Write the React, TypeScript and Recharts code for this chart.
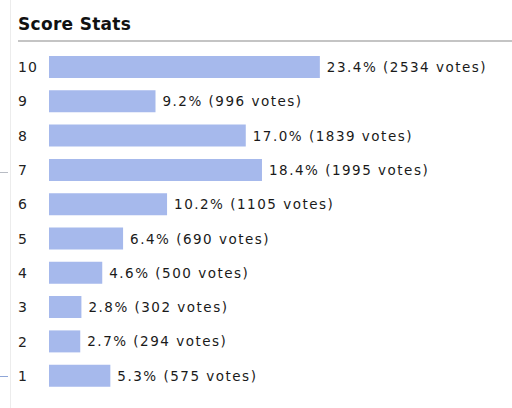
import { BarChart, Bar, XAxis, YAxis, LabelList } from 'recharts';

const scores = ['10', '9', '8', '7', '6', '5', '4', '3', '2', '1'];
const percents = [23.4, 9.2, 17.0, 18.4, 10.2, 6.4, 4.6, 2.8, 2.7, 5.3];
const votes = [2534, 996, 1839, 1995, 1105, 690, 500, 302, 294, 575];

const data = scores.map((score, i) => ({
  score,
  percent: percents[i],
  votes: votes[i],
}));

const FONT = '"DejaVu Sans", Verdana, sans-serif';

const ScoreTick = ({ y, payload }: any) => (
  <text
    x={18}
    y={y}
    dy={5}
    fontFamily={FONT}
    fontSize={14}
    letterSpacing={1}
    fill="#222"
    textAnchor="start"
  >
    {payload.value}
  </text>
);

const VoteLabel = ({ x, y, width, height, index }: any) => (
  <text
    x={x + width + 7}
    y={y + height / 2}
    dy={5}
    fontFamily={FONT}
    fontSize={13.5}
    letterSpacing={1.5}
    fill="#1a1a1a"
  >
    {`${percents[index].toFixed(1)}% (${votes[index]} votes)`}
  </text>
);

export default function App() {
  return (
    <div style={{ position: 'absolute', left: 0, top: 0, width: 512, height: 408, background: '#fff' }}>
      <div style={{ position: 'absolute', left: 10, top: 0, width: 1, height: 408, background: '#ececec' }} />
      <div style={{ position: 'absolute', left: 0, top: 172, width: 8, height: 1, background: '#b8bcc4' }} />
      <div style={{ position: 'absolute', left: 0, top: 376, width: 8, height: 1, background: '#8fa6d8' }} />
      <div
        style={{
          position: 'absolute',
          left: 18,
          top: 14,
          fontFamily: FONT,
          fontWeight: 'bold',
          fontSize: 17,
          letterSpacing: 0.3,
          color: '#111',
        }}
      >
        Score Stats
      </div>
      <div style={{ position: 'absolute', left: 18, top: 40, width: 494, height: 2, background: '#c4c4c4' }} />
      <div style={{ position: 'absolute', left: 0, top: 0 }}>
        <BarChart
          width={512}
          height={408}
          data={data}
          layout="vertical"
          margin={{ top: 50, right: 0, left: 0, bottom: 15 }}
        >
          <XAxis type="number" domain={[0, 40]} hide />
          <YAxis
            type="category"
            dataKey="score"
            width={49}
            axisLine={false}
            tickLine={false}
            tick={<ScoreTick />}
            interval={0}
          />
          <Bar dataKey="percent" fill="#a6b9ec" barSize={22} isAnimationActive={false}>
            <LabelList dataKey="percent" content={<VoteLabel />} />
          </Bar>
        </BarChart>
      </div>
    </div>
  );
}
